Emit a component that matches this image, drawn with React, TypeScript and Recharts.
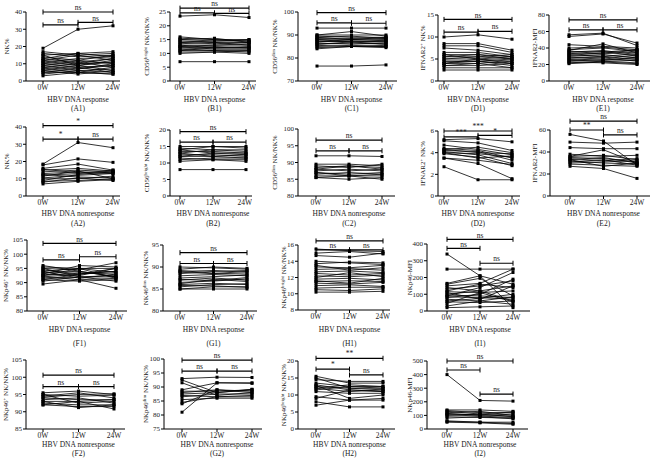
import { LineChart, Line, XAxis, YAxis, ReferenceLine } from 'recharts'

const weeks = ['0W', '12W', '24W']

// one triple per patient: [0W, 12W, 24W]
const a1Values = [
  [19, 30, 32], [17, 15, 16], [16, 14, 15], [15, 16, 17], [14, 12, 15], [13, 11, 13],
  [12, 15, 12], [12, 10, 11], [11, 13, 14], [11, 9, 12], [10, 12, 10], [10, 8, 9],
  [9, 11, 8], [9, 7, 10], [8, 10, 13], [8, 6, 7], [7, 9, 6], [7, 5, 8], [6, 8, 5],
  [6, 4, 6], [5, 7, 9], [5, 5, 4], [4, 6, 5], [3, 5, 4], [15, 9, 11], [13, 16, 14],
]
const b1Values = [
  [23.5, 24, 23], [7, 7, 7], [16, 15, 15], [15.5, 15, 14.5], [15, 14.5, 15], [14.5, 14, 14],
  [14, 13.5, 14], [13.5, 14, 13], [13, 13, 13.5], [12.5, 12, 12.5], [12, 12.5, 12],
  [12, 11.5, 11.5], [11.5, 11, 11], [11, 11, 10.5], [10.5, 10.5, 11], [10, 10.5, 10],
  [13, 12, 12], [14, 14.5, 14.5], [12.5, 13, 13], [11, 12, 12], [15, 15.5, 14],
]
const c1Values = [
  [93, 93, 93], [76.5, 76.5, 77], [90, 91.5, 89.5], [90, 90, 90], [89.5, 89, 89],
  [89, 89.5, 88.5], [88.5, 88, 89], [88, 88.5, 88], [87.5, 87, 87.5], [87, 87.5, 87],
  [86.5, 86, 86.5], [86, 86.5, 86], [85.5, 85, 85.5], [85, 85.5, 85], [84.5, 85, 85],
  [88, 87, 86], [87, 88, 88.5], [86, 87, 87], [89, 88, 87.5], [84, 85, 84.5],
]
const d1Values = [
  [10, 10.5, 9.5], [8.5, 8.5, 7], [8, 8, 6.5], [7.5, 7, 6], [6.5, 6.5, 5.5], [6, 6, 5.5],
  [5.5, 6, 5], [5.5, 5.5, 6], [5, 5, 4.5], [5, 5.5, 5], [4.5, 4.5, 5], [4.5, 4.5, 4],
  [4, 4, 4.5], [4, 4.5, 3.5], [3.5, 3.5, 4], [3, 3, 3], [2.5, 2.5, 2.5], [6, 5, 4],
  [4, 5, 5.5], [3.5, 4, 3],
]
const e1Values = [
  [56, 58, 43], [54, 57, 46], [44, 42, 40], [40, 41, 38], [38, 40, 36], [36, 35, 38],
  [35, 37, 32], [34, 33, 35], [33, 36, 30], [32, 30, 33], [30, 32, 28], [29, 28, 31],
  [28, 30, 26], [27, 25, 29], [26, 28, 24], [25, 24, 22], [24, 26, 27], [23, 22, 20],
  [22, 24, 25], [21, 23, 21], [37, 45, 34], [31, 34, 37],
]
const a2Values = [
  [18.5, 31, 28], [18, 21.5, 19.5], [16, 18.5, 15], [15, 16, 14.5], [14, 15, 14],
  [13, 14, 13.5], [12, 13, 15], [11.5, 14.5, 10], [10.5, 12, 13], [10, 10, 11.5],
  [9, 12.5, 14], [8.5, 9, 10], [8, 10.5, 9], [7, 8.5, 9.5], [12.5, 11, 10.5], [15.5, 13.5, 13],
]
const b2Values = [
  [15, 15, 15], [14.5, 14, 14], [14, 15, 14.5], [13.5, 13.5, 13], [13, 14, 13.5],
  [12.5, 12.5, 12], [12, 13, 12.5], [12, 12, 11.5], [11.5, 11, 11], [11, 11.5, 11.5],
  [10.5, 11, 10.5], [8, 8, 8], [14, 13, 13], [13, 12, 12.5],
]
const c2Values = [
  [92, 92, 91.8], [89.5, 89.5, 89], [89, 88.5, 89.5], [88.5, 89, 88], [88, 87.5, 88],
  [87.5, 88, 87.5], [87, 86.5, 87], [86.5, 87, 86.5], [86, 86, 86], [85.5, 85, 85.5],
  [85.5, 86, 85], [88, 89, 88.5], [87, 86, 86.5],
]
const d2Values = [
  [5.2, 5.3, 5.0], [5.1, 4.9, 4.2], [4.7, 4.3, 3.8], [4.4, 4.2, 3.5], [4.3, 4.0, 3.9],
  [4.2, 4.1, 3.3], [4.1, 3.8, 3.0], [4.0, 3.9, 3.6], [3.9, 3.6, 2.8], [3.5, 3.0, 1.6],
  [3.5, 3.3, 2.9], [2.7, 1.5, 1.5], [4.3, 4.5, 4.0], [4.0, 3.5, 3.7],
]
const e2Values = [
  [56, 50, 28], [49, 48, 49], [44, 43, 43], [38, 36, 37], [36, 37, 33], [35, 34, 31],
  [34, 32, 34], [33, 35, 30], [32, 30, 29], [31, 33, 28], [30, 31, 32], [29, 28, 27],
  [27, 25, 16], [33, 27, 30], [36, 42, 30],
]
const f1Values = [
  [96, 94, 92], [95.5, 95, 95], [95, 94.5, 97], [94.5, 93, 94], [94, 95, 93.5],
  [93.5, 94, 92], [93, 92.5, 95], [92.5, 93.5, 93], [92, 91, 91.5], [92, 93, 94],
  [91.5, 92, 90.5], [91, 90.5, 91], [90.5, 92, 92.5], [89.5, 91, 88], [93, 96, 95.5],
  [94, 91.5, 93], [92.5, 95, 91.5], [91, 93, 95], [95, 92, 92],
]
const g1Values = [
  [90, 89.8, 89.5], [89.5, 90, 89.7], [89, 89.2, 88.8], [88.5, 89, 89.2], [88, 88.3, 88],
  [87.5, 87.8, 88.2], [87, 87.5, 87], [86.5, 86.8, 87.3], [86, 86.3, 86], [85.5, 86, 86.2],
  [85, 85.5, 85.5], [85, 85, 85], [88.8, 88.5, 89], [87.2, 86.9, 87.6], [86.2, 87.2, 86.7],
  [89.2, 88.6, 88.4], [85.8, 85.7, 85.4],
]
const h1Values = [
  [15.5, 15.3, 15.2], [15, 15.2, 14.9], [14.7, 14.5, 15], [14, 13.8, 13.6], [13.7, 13.9, 13.8],
  [13.3, 13.2, 13.5], [13, 13.1, 12.9], [12.7, 12.8, 12.6], [12.5, 12.3, 12.5],
  [12.2, 12.1, 12.3], [11.8, 11.9, 11.7], [11.5, 11.6, 11.5], [11.3, 11.2, 11.4],
  [11, 11.1, 10.9], [10.7, 10.8, 10.8], [10.5, 10.4, 10.6], [10.2, 10.2, 10.3],
  [12, 12.6, 12.1], [13.5, 12.9, 13.2], [11.6, 11.3, 11.9],
]
const i1Values = [
  [340, 210, 20], [250, 250, 250], [165, 210, 160], [160, 195, 90], [150, 165, 250],
  [130, 150, 180], [120, 160, 140], [115, 110, 120], [100, 120, 150], [95, 90, 80],
  [90, 140, 230], [85, 80, 70], [80, 100, 190], [70, 60, 85], [60, 75, 100], [55, 50, 60],
  [45, 110, 55], [30, 60, 40], [20, 25, 30], [140, 120, 60], [110, 70, 150],
]
const f2Values = [
  [95.5, 96, 95], [95, 94.5, 94.8], [94.5, 95.5, 94], [94, 93.5, 93.5], [93.5, 94, 92.5],
  [93, 93, 93.5], [92.5, 92, 92], [92, 91.5, 91.5], [92, 93, 90.8], [93, 91.2, 92],
  [94.2, 95, 95.2], [95, 92.5, 93],
]
const g2Values = [
  [93, 93.5, 93.4], [92.5, 88, 89], [91.5, 87, 88], [89, 91.5, 91.5], [88.5, 88.5, 89],
  [88, 89, 88.5], [87.5, 88, 89.2], [87, 86.5, 87], [86.5, 87.5, 87.5], [85.5, 86, 86],
  [84.5, 86.5, 86.5], [84, 89, 88], [81, 91.5, 91.3],
]
const h2Values = [
  [15.5, 13.5, 13.5], [15, 12, 11.5], [14.5, 14, 14], [13.5, 12.5, 12.5], [13, 11.5, 11],
  [12.5, 12, 12], [12, 13, 12.5], [12, 11, 11.5], [11.5, 12.5, 12], [11, 10.5, 10.5],
  [9.5, 8.5, 9], [9, 11.5, 11], [8, 6.5, 6.5], [7, 8.5, 8.5], [12.8, 9, 10],
]
const i2Values = [
  [400, 210, 205], [140, 140, 130], [135, 120, 120], [130, 110, 125], [120, 130, 100],
  [115, 100, 110], [110, 105, 95], [105, 95, 85], [100, 110, 90], [90, 85, 80],
  [80, 90, 75], [60, 50, 40], [55, 50, 50], [50, 45, 35],
]

const FONT = "'Liberation Serif', 'DejaVu Serif', serif"
const INK = '#1a1a1a'
const YW = 34
const MT = 22
const XH = 42

type Bracket = [string, string, number, string]
type Title = { pre: string; sup?: string; post?: string }
type Panel = {
  tag: string
  values: number[][]
  domain: [number, number]
  ticks: number[]
  title: Title
  nonresponse?: boolean
  brackets: Bracket[]
  // axisX, top, bottom, x0, x2, right, labelX, titleDy, tagDy
  box: number[]
}

const panels: Panel[] = [
  { tag: '(A1)', values: a1Values, domain: [0, 40], ticks: [0, 10, 20, 30, 40], title: { pre: 'NK%' },
    brackets: [['0W', '24W', 40, 'ns'], ['0W', '12W', 32.5, 'ns'], ['12W', '24W', 34, 'ns']],
    box: [26, 12, 81, 43, 113, 120, 7, 18, 27] },
  { tag: '(B1)', values: b1Values, domain: [0, 25], ticks: [0, 5, 10, 15, 20, 25],
    title: { pre: 'CD56', sup: 'bright', post: ' NK/NK%' },
    brackets: [['0W', '24W', 26.4, 'ns'], ['0W', '12W', 24.7, 'ns'], ['12W', '24W', 24.5, 'ns']],
    box: [170, 12, 81, 180, 249, 256, 147, 18, 27] },
  { tag: '(C1)', values: c1Values, domain: [70, 100], ticks: [70, 80, 90, 100],
    title: { pre: 'CD56', sup: 'dim', post: ' NK/NK%' },
    brackets: [['0W', '24W', 99.7, 'ns'], ['0W', '12W', 95.3, 'ns'], ['12W', '24W', 95.1, 'ns']],
    box: [298, 12, 81, 317, 386, 397, 275, 18, 27] },
  { tag: '(D1)', values: d1Values, domain: [0, 15], ticks: [0, 5, 10, 15],
    title: { pre: 'IFNAR2', sup: '+', post: ' NK%' },
    brackets: [['0W', '24W', 14, 'ns'], ['0W', '12W', 11.1, 'ns'], ['12W', '24W', 11.3, 'ns']],
    box: [438, 15, 81, 444, 512, 520, 423, 18, 27] },
  { tag: '(E1)', values: e1Values, domain: [0, 80], ticks: [0, 20, 40, 60, 80], title: { pre: 'IFNAR2-MFI' },
    brackets: [['0W', '24W', 74, 'ns'], ['0W', '12W', 62, 'ns'], ['12W', '24W', 62, 'ns']],
    box: [549, 15, 81, 569, 637, 650, 535, 18, 27] },

  { tag: '(A2)', values: a2Values, domain: [0, 40], ticks: [0, 10, 20, 30, 40], title: { pre: 'NK%' },
    nonresponse: true,
    brackets: [['0W', '24W', 40.8, '*'], ['0W', '12W', 33, '*'], ['12W', '24W', 33, 'ns']],
    box: [26, 127, 196, 43, 113, 120, 7, 17, 27] },
  { tag: '(B2)', values: b2Values, domain: [0, 20], ticks: [0, 5, 10, 15, 20],
    title: { pre: 'CD56', sup: 'bright', post: ' NK/NK%' }, nonresponse: true,
    brackets: [['0W', '24W', 19.5, 'ns'], ['0W', '12W', 16.3, 'ns'], ['12W', '24W', 16.3, 'ns']],
    box: [170, 130, 196, 180, 246, 252, 147, 17, 27] },
  { tag: '(C2)', values: c2Values, domain: [80, 100], ticks: [80, 85, 90, 95, 100],
    title: { pre: 'CD56', sup: 'dim', post: ' NK/NK%' }, nonresponse: true,
    brackets: [['0W', '24W', 96.7, 'ns'], ['0W', '12W', 93.5, 'ns'], ['12W', '24W', 93.5, 'ns']],
    box: [298, 129, 196, 316, 382, 395, 275, 17, 27] },
  { tag: '(D2)', values: d2Values, domain: [0, 6], ticks: [0, 2, 4, 6],
    title: { pre: 'IFNAR2', sup: '+', post: ' NK%' }, nonresponse: true,
    brackets: [['0W', '24W', 6.0, '***'], ['0W', '12W', 5.45, '***'], ['12W', '24W', 5.6, '*']],
    box: [438, 131, 196, 444, 512, 520, 423, 17, 27] },
  { tag: '(E2)', values: e2Values, domain: [0, 60], ticks: [0, 20, 40, 60], title: { pre: 'IFNAR2-MFI' },
    nonresponse: true,
    brackets: [['0W', '24W', 68, 'ns'], ['0W', '12W', 60, '**'], ['12W', '24W', 55.5, 'ns']],
    box: [550, 130, 196, 570, 637, 650, 535, 17, 27] },

  { tag: '(F1)', values: f1Values, domain: [80, 105], ticks: [80, 85, 90, 95, 100, 105],
    title: { pre: 'NKp46', sup: '+', post: ' NK/NK%' },
    brackets: [['0W', '24W', 103.8, 'ns'], ['0W', '12W', 98, 'ns'], ['12W', '24W', 99.1, 'ns']],
    box: [27, 240, 311, 43, 116, 127, 6, 18, 32] },
  { tag: '(G1)', values: g1Values, domain: [80, 95], ticks: [80, 85, 90, 95],
    title: { pre: 'NK46', sup: 'dim', post: ' NK/NK%' },
    brackets: [['0W', '24W', 93.25, 'ns'], ['0W', '12W', 90.8, 'ns'], ['12W', '24W', 90.8, 'ns']],
    box: [163, 245, 311, 180, 247, 257, 146, 18, 32] },
  { tag: '(H1)', values: h1Values, domain: [8, 16], ticks: [8, 10, 12, 14, 16],
    title: { pre: 'NKp46', sup: 'bright', post: ' NK/NK%' },
    brackets: [['0W', '24W', 16.5, 'ns'], ['0W', '12W', 15.4, 'ns'], ['12W', '24W', 15.4, 'ns']],
    box: [298, 245, 310, 316, 383, 390, 284, 19, 33] },
  { tag: '(I1)', values: i1Values, domain: [0, 400], ticks: [0, 100, 200, 300, 400], title: { pre: 'NKp46-MFI' },
    brackets: [['0W', '24W', 428, 'ns'], ['0W', '12W', 374, 'ns'], ['12W', '24W', 285, 'ns']],
    box: [427, 244, 311, 447, 513, 530, 410, 18, 32] },

  { tag: '(F2)', values: f2Values, domain: [85, 105], ticks: [85, 90, 95, 100, 105],
    title: { pre: 'NKp46', sup: '+', post: ' NK/NK%' }, nonresponse: true,
    brackets: [['0W', '24W', 100.6, 'ns'], ['0W', '12W', 97.3, 'ns'], ['12W', '24W', 97.3, 'ns']],
    box: [26, 360, 429, 43, 114, 125, 6, 15, 24] },
  { tag: '(G2)', values: g2Values, domain: [75, 100], ticks: [75, 80, 85, 90, 95, 100],
    title: { pre: 'NKp46', sup: 'dim', post: ' NK/NK%' }, nonresponse: true,
    brackets: [['0W', '24W', 99.6, 'ns'], ['0W', '12W', 95.7, 'ns'], ['12W', '24W', 95.7, 'ns']],
    box: [164, 359, 429, 182, 252, 262, 146, 15, 24] },
  { tag: '(H2)', values: h2Values, domain: [0, 20], ticks: [0, 5, 10, 15, 20],
    title: { pre: 'NKp46', sup: 'bright', post: ' NK/NK%' }, nonresponse: true,
    brackets: [['0W', '24W', 20.8, '**'], ['0W', '12W', 17.6, '*'], ['12W', '24W', 15.9, 'ns']],
    box: [298, 361, 429, 316, 383, 395, 284, 15, 24] },
  { tag: '(I2)', values: i2Values, domain: [0, 500], ticks: [0, 100, 200, 300, 400, 500],
    title: { pre: 'NKp46-MFI' }, nonresponse: true,
    brackets: [['0W', '24W', 500, 'ns'], ['0W', '12W', 434, 'ns'], ['12W', '24W', 257, 'ns']],
    box: [427, 361, 429, 447, 513, 528, 410, 15, 24] },
]

const squareDot = (p: any) => (
  <rect
    key={`${p.dataKey}-${p.index}`}
    x={p.cx - 1.5}
    y={p.cy - 1.5}
    width={3}
    height={3}
    fill="#000"
  />
)

const bracketShape = (text: string) => (p: any) => {
  const { x1, y1, x2 } = p
  return (
    <g>
      <line x1={x1} y1={y1} x2={x2} y2={y1} stroke="#000" strokeWidth={1.2} />
      <line x1={x1} y1={y1 - 2.5} x2={x1} y2={y1 + 2.5} stroke="#000" strokeWidth={1} />
      <line x1={x2} y1={y1 - 2.5} x2={x2} y2={y1 + 2.5} stroke="#000" strokeWidth={1} />
      <text x={(x1 + x2) / 2} y={y1 - 1.8} textAnchor="middle" fontSize={7.5} fill={INK} fontFamily={FONT}>
        {text}
      </text>
    </g>
  )
}

function PanelChart({ panel }: { panel: Panel }) {
  const [axisX, top, bottom, x0, x2, right, labelX, titleDy, tagDy] = panel.box
  const left = axisX - YW
  const width = YW + (right - axisX)
  const height = MT + (bottom - top) + XH
  const data = weeks.map((t, i) => {
    const row: Record<string, number | string> = { t }
    panel.values.forEach((v, j) => {
      row['s' + j] = v[i]
    })
    return row
  })
  const yTitleX = labelX - left
  const yTitleY = MT + (bottom - top) / 2
  const centerX = (x0 + x2) / 2 - left
  const { pre, sup, post } = panel.title

  return (
    <div style={{ position: 'absolute', left, top: top - MT }}>
      <LineChart width={width} height={height} data={data} margin={{ top: MT, right: 0, bottom: 0, left: 0 }}>
        <XAxis
          dataKey="t"
          height={XH}
          padding={{ left: x0 - axisX, right: right - x2 }}
          stroke="#000"
          tickSize={3}
          tickMargin={1}
          tick={{ fontSize: 7.5, fill: INK, fontFamily: FONT }}
          label={{
            content: (lp: any) => (
              <g>
                <text x={centerX} y={lp.viewBox.y + titleDy} textAnchor="middle" dominantBaseline="central"
                  fontSize={7.5} fill={INK} fontFamily={FONT}>
                  {panel.nonresponse ? 'HBV DNA nonresponse' : 'HBV DNA response'}
                </text>
                <text x={centerX} y={lp.viewBox.y + tagDy} textAnchor="middle" dominantBaseline="central"
                  fontSize={7.5} fill={INK} fontFamily={FONT}>
                  {panel.tag}
                </text>
              </g>
            ),
          }}
        />
        <YAxis
          type="number"
          width={YW}
          domain={panel.domain}
          ticks={panel.ticks}
          interval={0}
          stroke="#000"
          tickSize={3}
          tickMargin={1}
          tick={{ fontSize: 7, fill: INK, fontFamily: FONT }}
          label={{
            content: () => (
              <text x={yTitleX} y={yTitleY} transform={`rotate(-90 ${yTitleX} ${yTitleY})`}
                textAnchor="middle" dominantBaseline="central" fontSize={7} fill={INK} fontFamily={FONT}>
                {pre}
                {sup ? <tspan dy={-2.5} fontSize={5}>{sup}</tspan> : null}
                {sup ? <tspan dy={2.5}>{post}</tspan> : null}
              </text>
            ),
          }}
        />
        {panel.values.map((_, j) => (
          <Line
            key={j}
            dataKey={'s' + j}
            stroke="#000"
            strokeWidth={0.8}
            dot={squareDot}
            activeDot={false}
            isAnimationActive={false}
          />
        ))}
        {panel.brackets.map(([from, to, y, text], k) => (
          <ReferenceLine
            key={'b' + k}
            segment={[{ x: from, y }, { x: to, y }]}
            ifOverflow="visible"
            stroke="#000"
            shape={bracketShape(text)}
          />
        ))}
      </LineChart>
    </div>
  )
}

export default function App() {
  return (
    <div style={{ position: 'absolute', left: 0, top: 0, width: 654, height: 464, background: '#fff' }}>
      {panels.map((p) => (
        <PanelChart key={p.tag} panel={p} />
      ))}
    </div>
  )
}
